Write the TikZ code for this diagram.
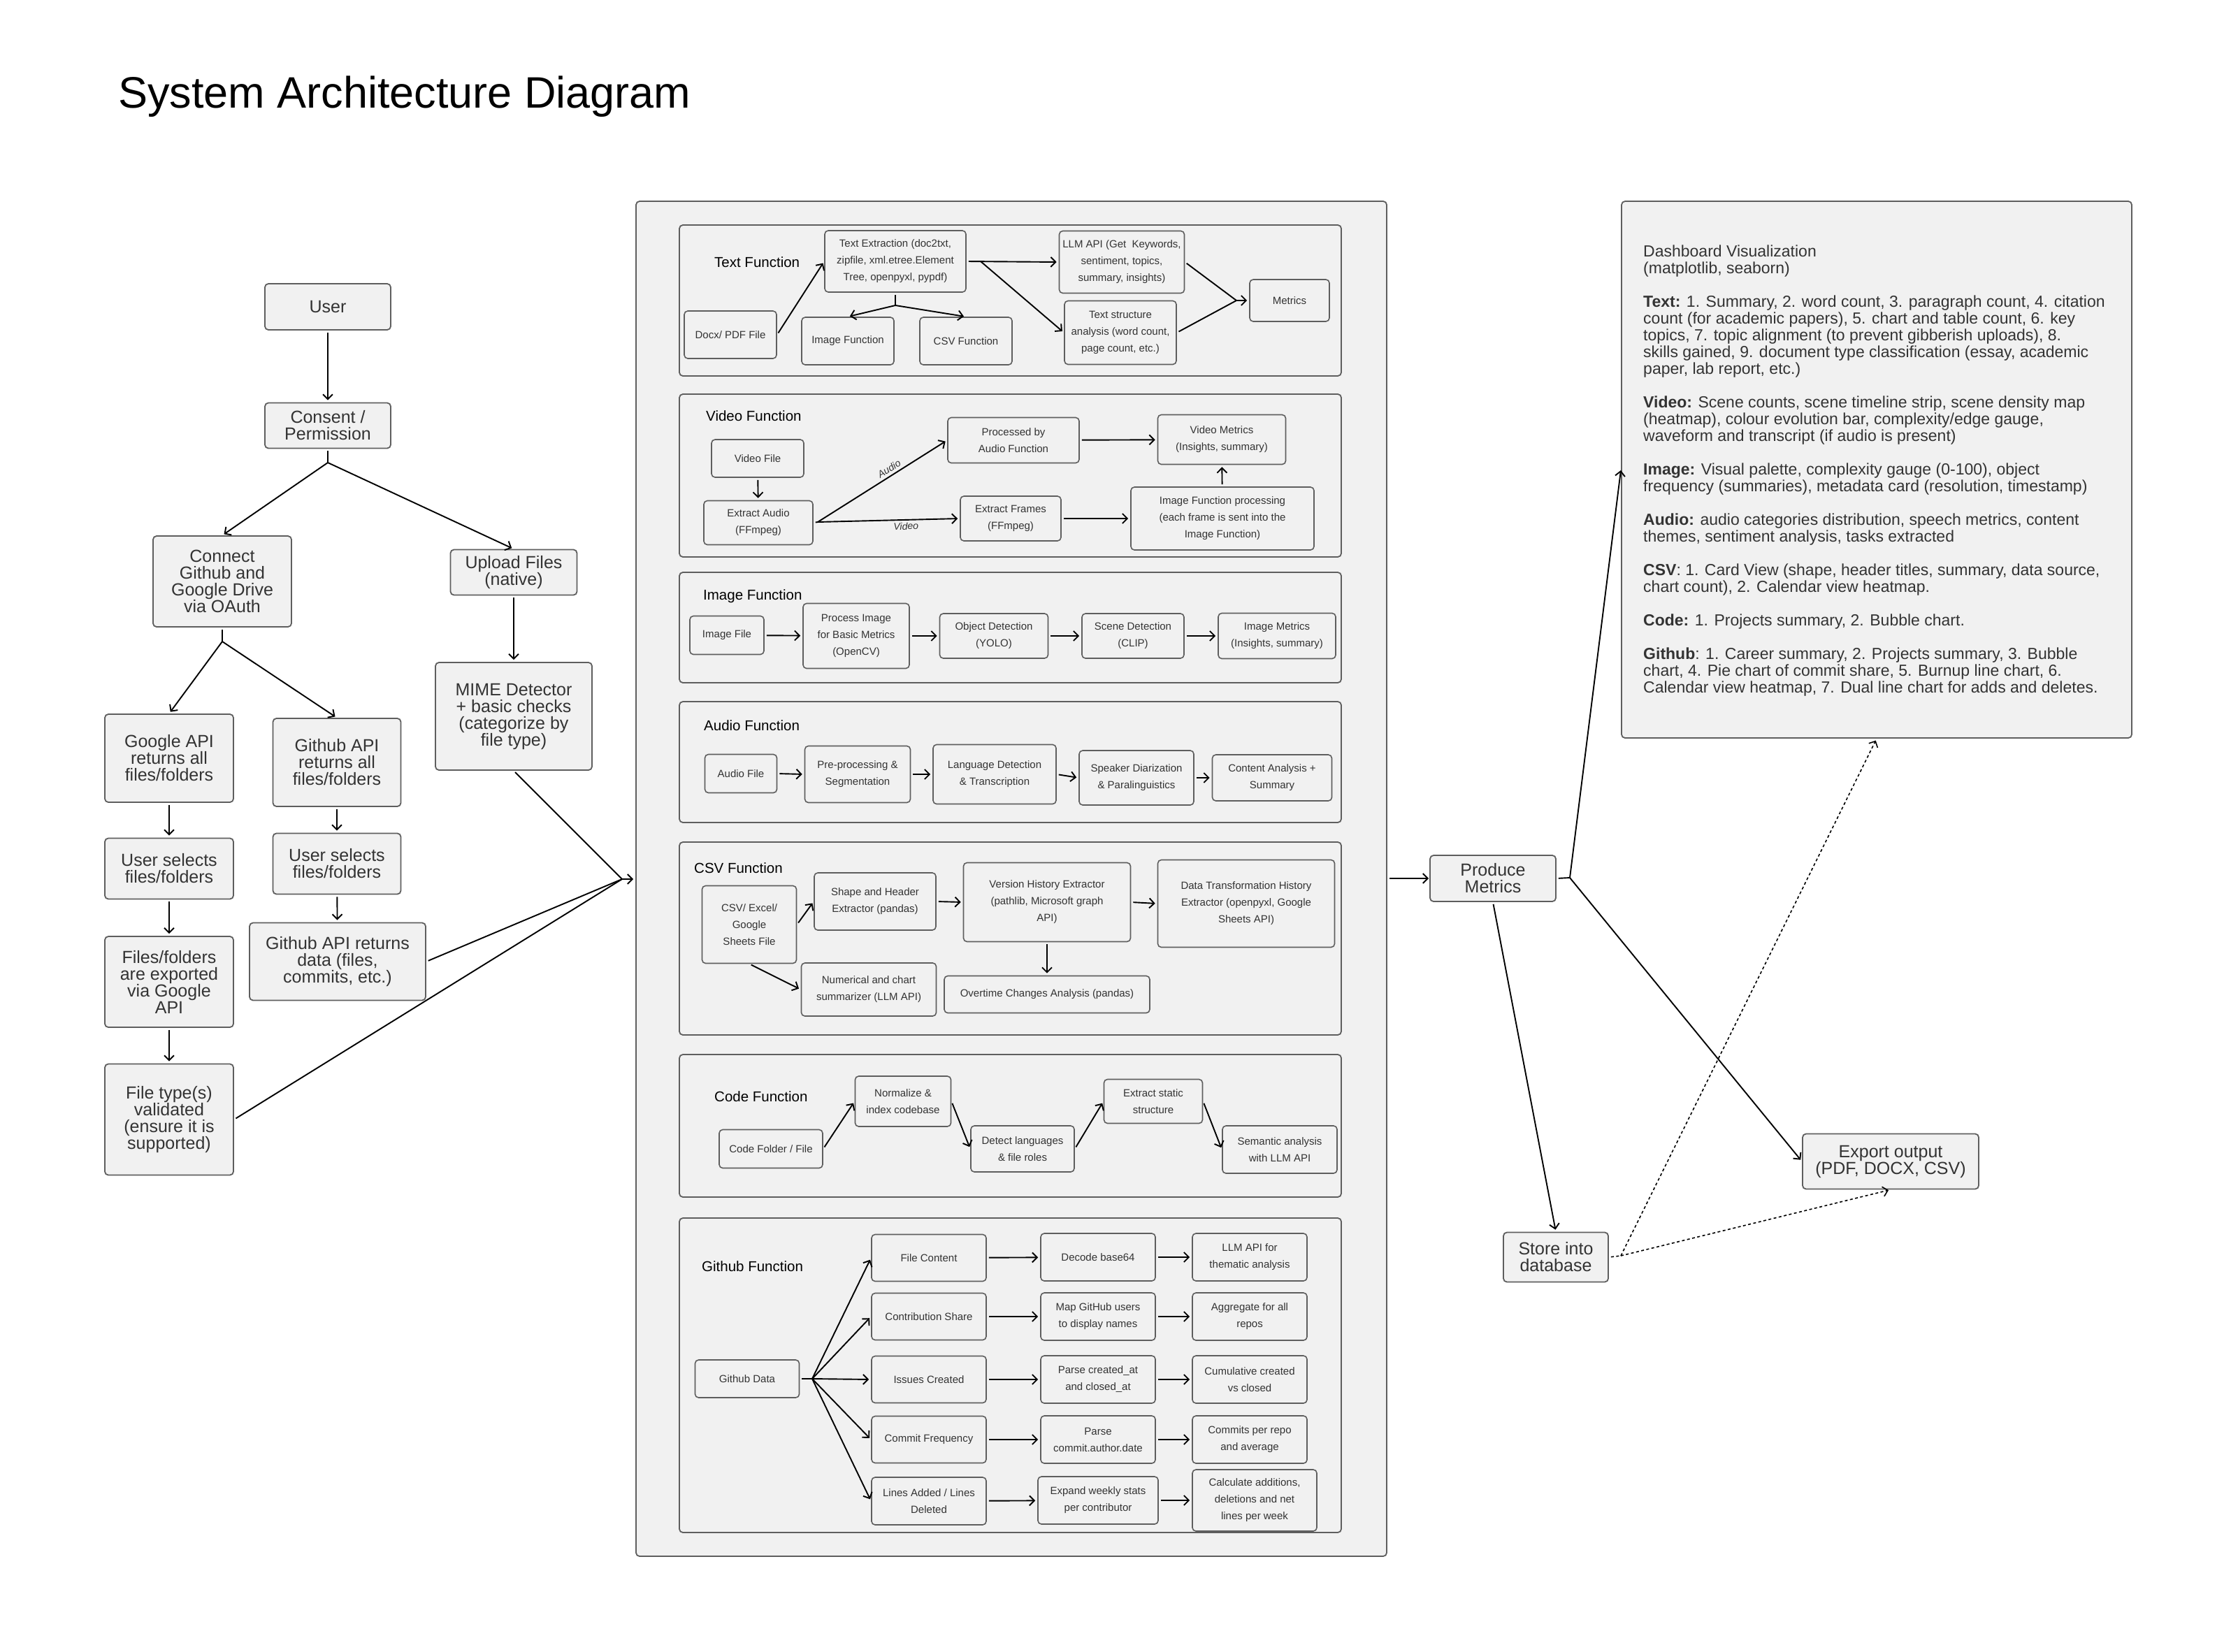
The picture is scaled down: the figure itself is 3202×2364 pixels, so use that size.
\documentclass[tikz,border=0pt]{standalone}
\usepackage{fontspec}
\setmainfont{Liberation Sans}
\usetikzlibrary{arrows.meta,calc}
\definecolor{boxfill}{HTML}{F1F1F1}
\definecolor{boxline}{HTML}{5E5E5E}
\definecolor{txt}{HTML}{333333}
\begin{document}
\begin{tikzpicture}[x=1pt,y=-1pt,
  >={Straight Barb[length=7pt,width=14pt]},
  sz/.style 2 args={minimum width=#1pt,minimum height=#2pt},
  bigbox/.style={draw=boxline,fill=boxfill,rounded corners=5pt,line width=1.8pt,align=center,text=txt,inner sep=0pt,font=\fontsize{25}{24}\selectfont},
  smallbox/.style={draw=boxline,fill=boxfill,rounded corners=5pt,line width=1.6pt,align=center,text=txt,inner sep=0pt,font=\fontsize{15}{24}\selectfont},
  panel/.style={draw=boxline,fill=boxfill,rounded corners=5pt,line width=1.8pt,inner sep=0pt},
  fnlabel/.style={anchor=west,text=black,font=\fontsize{20.5}{24}\selectfont,inner sep=0pt},
  conn/.style={->,line width=1.9pt,shorten <=3pt,shorten >=3pt},
  plain/.style={line width=1.9pt},
  dotline/.style={line width=1.6pt,dash pattern=on 4pt off 3.5pt}
]
\fill[white] (0,0) rectangle (3202,2364);
\useasboundingbox (0,0) rectangle (3202,2364);

% Title
\node[anchor=base west,inner sep=0pt,font=\fontsize{63}{70}\selectfont,text=black] (title) at (169,154) {System Architecture Diagram};

% ---------------- Left column ----------------
\node[bigbox,sz={180}{66}] (user) at (469,439) {User};
\node[bigbox,sz={180}{65}] (consent) at (469,609) {Consent /\\Permission};
\node[bigbox,sz={198}{130}] (connect) at (318,832) {Connect\\Github and\\Google Drive\\via OAuth};
\node[bigbox,sz={181}{65}] (upload) at (735,819) {Upload Files\\(native)};
\node[bigbox,sz={224}{154}] (mime) at (735,1025) {MIME Detector\\+ basic checks\\(categorize by\\file type)};
\node[bigbox,sz={184}{126}] (gapi) at (242,1085) {Google API\\returns all\\files/folders};
\node[bigbox,sz={183}{126}] (ghapi) at (482,1091) {Github API\\returns all\\files/folders};
\node[bigbox,sz={184}{87}] (gsel) at (242,1243) {User selects\\files/folders};
\node[bigbox,sz={183}{87}] (ghsel) at (482,1236) {User selects\\files/folders};
\node[bigbox,sz={184}{130}] (gexp) at (242,1405) {Files/folders\\are exported\\via Google\\API};
\node[bigbox,sz={252}{111}] (ghdata) at (483,1376) {Github API returns\\data (files,\\commits, etc.)};
\node[bigbox,sz={184}{159}] (ftype) at (242,1602) {File type(s)\\validated\\(ensure it is\\supported)};

\coordinate (br1) at (469,662);
\coordinate (br2) at (318,918);
\coordinate (merge) at (890,1258);

\draw[conn] (user) -- (consent);
\draw[plain,shorten <=3pt] (consent.south) -- (br1);
\draw[conn,shorten <=0pt] (br1) -- (connect.north);
\draw[conn,shorten <=0pt] (br1) -- (upload.north);
\draw[plain,shorten <=3pt] (connect.south) -- (br2);
\draw[conn,shorten <=0pt] (br2) -- (gapi.north);
\draw[conn,shorten <=0pt] (br2) -- (ghapi.north);
\draw[conn] (upload) -- (mime);
\draw[conn] (gapi) -- (gsel);
\draw[conn] (gsel) -- (gexp);
\draw[conn] (gexp) -- (ftype);
\draw[conn] (ghapi) -- (ghsel);
\draw[conn] (ghsel) -- (ghdata);

% ---------------- Main container ----------------
\node[panel,sz={1074}{1939}] (main) at (1447,1257.5) {};

\draw[plain,shorten <=3pt] (ghdata.east) -- (merge);
\draw[plain,shorten <=3pt] (ftype.east) -- (merge);
\draw[plain,shorten <=3pt] (mime.south) -- (merge);
\draw[conn,shorten <=0pt] (merge) -- (main.west |- merge);

% Function panels
\node[panel,sz={947}{216}] (textfn) at (1445.5,430) {};
\node[panel,sz={947}{233}] (videofn) at (1445.5,680.5) {};
\node[panel,sz={947}{158}] (imagefn) at (1445.5,898) {};
\node[panel,sz={947}{173}] (audiofn) at (1445.5,1090.5) {};
\node[panel,sz={947}{276}] (csvfn) at (1445.5,1343) {};
\node[panel,sz={947}{204}] (codefn) at (1445.5,1611) {};
\node[panel,sz={947}{450}] (githubfn) at (1445.5,1968) {};

\node[fnlabel] (lbltext) at (1022,375) {Text Function};
\node[fnlabel] (lblvideo) at (1010,595) {Video Function};
\node[fnlabel] (lblimage) at (1006,853) {Image Function};
\node[fnlabel] (lblaudio) at (1007,1038) {Audio Function};
\node[fnlabel] (lblcsv) at (993,1242) {CSV Function};
\node[fnlabel] (lblcode) at (1022,1569) {Code Function};
\node[fnlabel] (lblgithub) at (1004,1812) {Github Function};

% Text Function
\node[smallbox,sz={202}{88}] (textext) at (1281,374) {Text Extraction (doc2txt,\\zipfile, xml.etree.Element\\Tree, openpyxl, pypdf)};
\node[smallbox,sz={132}{68}] (docx) at (1045,479) {Docx/ PDF File};
\node[smallbox,sz={132}{68}] (imgref) at (1213,488) {Image Function};
\node[smallbox,sz={132}{68}] (csvref) at (1382,488) {CSV Function};
\node[smallbox,sz={179}{89}] (llm) at (1605,375) {LLM API (Get\ \ Keywords,\\sentiment, topics,\\summary, insights)};
\node[smallbox,sz={160}{91}] (tstruct) at (1603,476) {Text structure\\analysis (word count,\\page count, etc.)};
\node[smallbox,sz={114}{60}] (metrics) at (1845,430) {Metrics};
\coordinate (tb) at (1281,437);
\coordinate (tsplit) at (1403,374);
\coordinate (mj) at (1769,430);
\draw[conn] (docx.east) -- (textext.west);
\draw[plain,shorten <=3pt] (textext.south) -- (tb);
\draw[conn,shorten <=0pt] (tb) -- (imgref.north);
\draw[conn,shorten <=0pt] (tb) -- (csvref.north);
\draw[conn] (textext.east) -- (llm.west);
\draw[conn,shorten <=0pt] (tsplit) -- (tstruct.west);
\draw[plain,shorten <=3pt] (llm.east) -- (mj);
\draw[plain,shorten <=3pt] (tstruct.east) -- (mj);
\draw[conn,shorten <=0pt] (mj) -- (metrics.west);

% Video Function
\node[smallbox,sz={132}{54}] (vfile) at (1084,656) {Video File};
\node[smallbox,sz={156}{63}] (xaudio) at (1085,748) {Extract Audio\\(FFmpeg)};
\node[smallbox,sz={188}{65}] (paudio) at (1450,630) {Processed by\\Audio Function};
\node[smallbox,sz={183}{71}] (vmetrics) at (1748,629) {Video Metrics\\(Insights, summary)};
\node[smallbox,sz={144}{64}] (xframes) at (1446,742) {Extract Frames\\(FFmpeg)};
\node[smallbox,sz={262}{90}] (ifproc) at (1749,742) {Image Function processing\\(each frame is sent into the\\Image Function)};
\coordinate (va) at (1170,747);
\draw[conn] (vfile) -- (xaudio);
\draw[plain,shorten <=3pt] (xaudio.east) -- (va);
\draw[conn,shorten <=0pt] (va) -- node[sloped,above,pos=0.58,inner sep=4pt,font=\itshape\fontsize{14}{16}\selectfont,text=txt] {Audio} (paudio.west);
\draw[conn,shorten <=0pt] (va) -- node[sloped,below,pos=0.62,inner sep=3pt,font=\itshape\fontsize{14}{16}\selectfont,text=txt] {Video} (xframes.west);
\draw[conn] (paudio) -- (vmetrics);
\draw[conn] (xframes) -- (ifproc);
\draw[conn] (ifproc) -- (vmetrics);

% Image Function
\node[smallbox,sz={106}{55}] (imfile) at (1040,909) {Image File};
\node[smallbox,sz={152}{93}] (procimg) at (1225,910) {Process Image\\for Basic Metrics\\(OpenCV)};
\node[smallbox,sz={155}{64}] (objdet) at (1422,910) {Object Detection\\(YOLO)};
\node[smallbox,sz={146}{64}] (scenedet) at (1621,910) {Scene Detection\\(CLIP)};
\node[smallbox,sz={168}{65}] (immetrics) at (1827,910) {Image Metrics\\(Insights, summary)};
\draw[conn] (imfile) -- (procimg);
\draw[conn] (procimg) -- (objdet);
\draw[conn] (objdet) -- (scenedet);
\draw[conn] (scenedet) -- (immetrics);

% Audio Function
\node[smallbox,sz={103}{55}] (aufile) at (1060,1107) {Audio File};
\node[smallbox,sz={151}{81}] (preproc) at (1227,1108) {Pre-processing \&\\Segmentation};
\node[smallbox,sz={176}{85}] (langdet) at (1423,1108) {Language Detection\\\& Transcription};
\node[smallbox,sz={164}{78}] (speaker) at (1626,1113) {Speaker Diarization\\\& Paralinguistics};
\node[smallbox,sz={171}{66}] (content) at (1820,1113) {Content Analysis +\\Summary};
\draw[conn] (aufile.east) -- (preproc.west);
\draw[conn] (preproc.east) -- (langdet.west);
\draw[conn] (langdet.east) -- (speaker.west);
\draw[conn] (speaker.east) -- (content.west);

% CSV Function
\node[smallbox,sz={135}{111}] (csvfile) at (1072,1323) {CSV/ Excel/\\Google\\Sheets File};
\node[smallbox,sz={174}{82}] (shape) at (1252,1290) {Shape and Header\\Extractor (pandas)};
\node[smallbox,sz={239}{113}] (version) at (1498,1291) {Version History Extractor\\(pathlib, Microsoft graph\\API)};
\node[smallbox,sz={253}{125}] (datatrans) at (1783,1293) {Data Transformation History\\Extractor (openpyxl, Google\\Sheets API)};
\node[smallbox,sz={193}{76}] (numer) at (1243,1416) {Numerical and chart\\summarizer (LLM API)};
\node[smallbox,sz={294}{53}] (overtime) at (1498,1423) {Overtime Changes Analysis (pandas)};
\draw[conn] (csvfile.east) -- (shape.west);
\draw[conn] (shape.east) -- (version.west);
\draw[conn] (version.east) -- (datatrans.west);
\draw[conn] (version.south) -- (overtime.north);
\draw[conn] (csvfile.south) -- (numer.west);

% Code Function
\node[smallbox,sz={148}{55}] (codefile) at (1103,1644) {Code Folder / File};
\node[smallbox,sz={137}{72}] (normalize) at (1292,1576) {Normalize \&\\index codebase};
\node[smallbox,sz={148}{66}] (detect) at (1463,1644) {Detect languages\\\& file roles};
\node[smallbox,sz={141}{63}] (extract) at (1650,1576) {Extract static\\structure};
\node[smallbox,sz={164}{68}] (semantic) at (1831,1645) {Semantic analysis\\with LLM API};
\draw[conn] (codefile.east) -- (normalize.west);
\draw[conn] (normalize.east) -- (detect.west);
\draw[conn] (detect.east) -- (extract.west);
\draw[conn] (extract.east) -- (semantic.west);

% Github Function
\node[smallbox,sz={149}{54}] (ghd) at (1069,1973) {Github Data};
\node[smallbox,sz={164}{67}] (filec) at (1329,1800) {File Content};
\node[smallbox,sz={164}{67}] (contrib) at (1329,1884) {Contribution Share};
\node[smallbox,sz={164}{67}] (issues) at (1329,1974) {Issues Created};
\node[smallbox,sz={164}{67}] (commitf) at (1329,2060) {Commit Frequency};
\node[smallbox,sz={164}{68}] (linesad) at (1329,2148) {Lines Added / Lines\\Deleted};
\node[smallbox,sz={164}{68}] (decode) at (1571,1799) {Decode base64};
\node[smallbox,sz={164}{68}] (mapgh) at (1571,1884) {Map GitHub users\\to display names};
\node[smallbox,sz={164}{68}] (parse1) at (1571,1974) {Parse created\_at\\and closed\_at};
\node[smallbox,sz={164}{68}] (parse2) at (1571,2060) {Parse\\commit.author.date};
\node[smallbox,sz={172}{68}] (expand) at (1571,2147) {Expand weekly stats\\per contributor};
\node[smallbox,sz={164}{68}] (llmth) at (1788,1799) {LLM API for\\thematic analysis};
\node[smallbox,sz={164}{68}] (aggr) at (1788,1884) {Aggregate for all\\repos};
\node[smallbox,sz={164}{68}] (cumul) at (1788,1974) {Cumulative created\\vs closed};
\node[smallbox,sz={164}{68}] (cper) at (1788,2060) {Commits per repo\\and average};
\node[smallbox,sz={178}{88}] (calc) at (1795,2147) {Calculate additions,\\deletions and net\\lines per week};
\coordinate (gb) at (1162,1973);
\draw[plain,shorten <=3pt] (ghd.east) -- (gb);
\foreach \t in {filec,contrib,issues,commitf,linesad}{
  \draw[conn,shorten <=0pt] (gb) -- (\t.west);
}
\draw[conn] (filec) -- (decode);
\draw[conn] (contrib) -- (mapgh);
\draw[conn] (issues) -- (parse1);
\draw[conn] (commitf) -- (parse2);
\draw[conn] (linesad) -- (expand);
\draw[conn] (decode) -- (llmth);
\draw[conn] (mapgh) -- (aggr);
\draw[conn] (parse1) -- (cumul);
\draw[conn] (parse2) -- (cper);
\draw[conn] (expand) -- (calc);

% ---------------- Right side ----------------
\node[bigbox,sz={180}{66}] (produce) at (2136,1257) {Produce\\Metrics};
\node[bigbox,sz={150}{71}] (store) at (2226,1799) {Store into\\database};
\node[bigbox,sz={252}{79}] (export) at (2705,1662) {Export output\\(PDF, DOCX, CSV)};
\node[panel,sz={730}{768}] (dash) at (2685,672) {};
\node[anchor=north west,inner sep=0pt,align=left,text=txt,font=\fontsize{23}{24}\selectfont] (dashtxt) at (2351,351) {Dashboard Visualization\\(matplotlib, seaborn)\\[24pt]
\textbf{Text:} 1. Summary, 2. word count, 3. paragraph count, 4. citation\\count (for academic papers), 5. chart and table count, 6. key\\topics, 7. topic alignment (to prevent gibberish uploads), 8.\\skills gained, 9. document type classification (essay, academic\\paper, lab report, etc.)\\[24pt]
\textbf{Video:} Scene counts, scene timeline strip, scene density map\\(heatmap), colour evolution bar, complexity/edge gauge,\\waveform and transcript (if audio is present)\\[24pt]
\textbf{Image:} Visual palette, complexity gauge (0-100), object\\frequency (summaries), metadata card (resolution, timestamp)\\[24pt]
\textbf{Audio:} audio categories distribution, speech metrics, content\\themes, sentiment analysis, tasks extracted\\[24pt]
\textbf{CSV}: 1. Card View (shape, header titles, summary, data source,\\chart count), 2. Calendar view heatmap.\\[24pt]
\textbf{Code:} 1. Projects summary, 2. Bubble chart.\\[24pt]
\textbf{Github}: 1. Career summary, 2. Projects summary, 3. Bubble\\chart, 4. Pie chart of commit share, 5. Burnup line chart, 6.\\Calendar view heatmap, 7. Dual line chart for adds and deletes.};

\coordinate (pb) at (2246,1256);
\coordinate (sb) at (2319,1797);
\draw[conn,shorten >=1pt] (main.east |- produce) -- (produce.west);
\draw[plain,shorten <=3pt] (produce.east) -- (pb);
\draw[conn,shorten <=0pt,shorten >=1pt] (pb) -- (dash.west);
\draw[conn,shorten <=0pt] (pb) -- (export.west);
\draw[conn] (produce.south) -- (store.north);
\draw[dotline,shorten <=3pt] (store.east) -- (sb);
\draw[dotline,->,shorten >=3pt] (sb) -- (export.south);
\draw[dotline,->,shorten >=3pt] (sb) -- (dash.south);
\end{tikzpicture}
\end{document}
